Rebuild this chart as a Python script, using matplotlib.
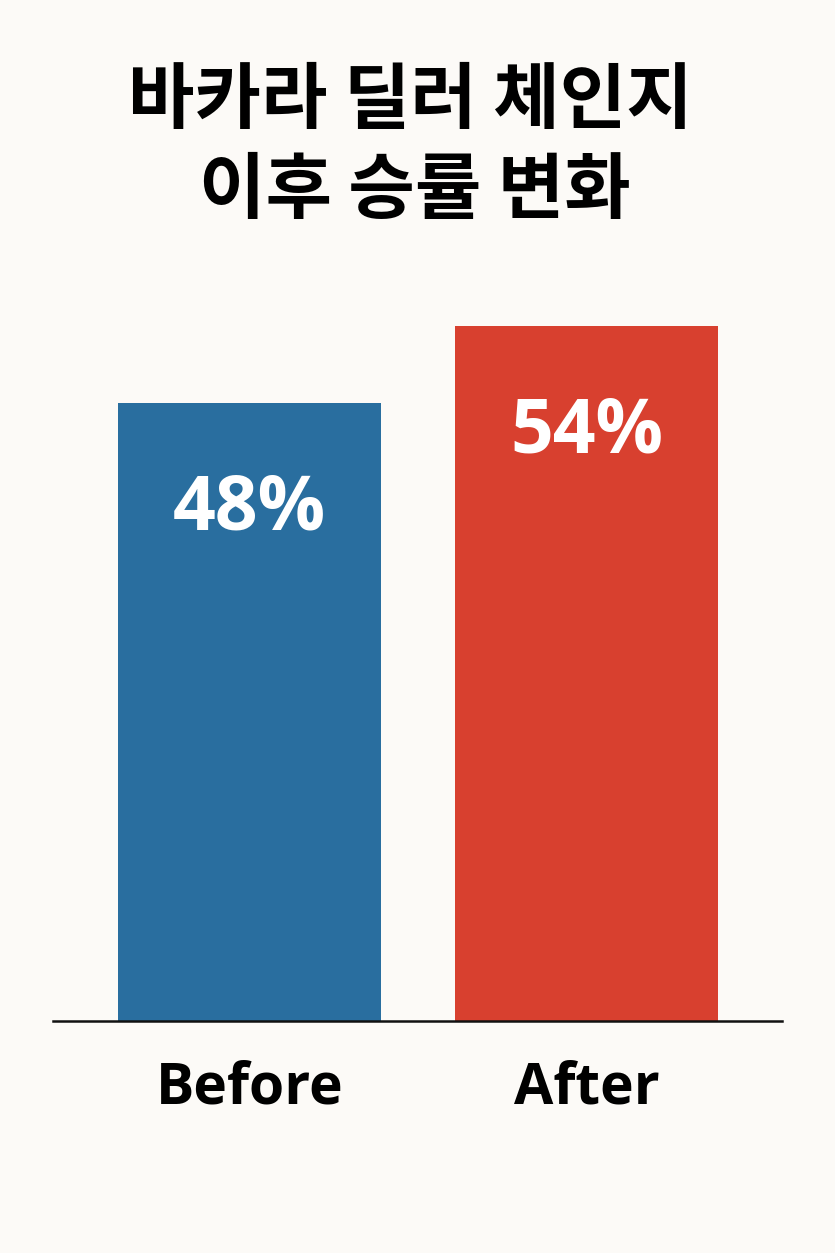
import matplotlib
matplotlib.use("Agg")
import matplotlib.pyplot as plt

categories = ["Before", "After"]
values = [48, 54]
value_labels = ["48%", "54%"]
colors = ["#296E9F", "#D8402F"]
title_lines = ["바카라 딜러 체인지", "이후 승률 변화"]

bg = "#FCFAF7"
fig = plt.figure(figsize=(8.35, 12.53), dpi=100, facecolor=bg)
ax = fig.add_axes([53/835, 1 - 1021/1253, (782-53)/835, (1021-300)/1253])
ax.set_facecolor(bg)

x = list(range(len(categories)))
bars = ax.bar(x, values, width=0.78, color=colors, zorder=2)
ax.set_xlim(-0.583, 1.580)
ax.set_ylim(0, 56)

for b, lab in zip(bars, value_labels):
    ax.annotate(lab, (b.get_x() + b.get_width()/2, b.get_height()),
                xytext=(0, -77), textcoords="offset points",
                ha="center", va="center", color="white",
                fontsize=54, fontweight="bold", family=["Open Sans", "DejaVu Sans"])

for s in ["top", "right", "left"]:
    ax.spines[s].set_visible(False)
ax.spines["bottom"].set_linewidth(1.8)
ax.spines["bottom"].set_color("#111111")
ax.set_yticks([])
ax.set_xticks(x)
ax.set_xticklabels(categories, fontsize=41, fontweight="bold",
                   family=["Open Sans", "DejaVu Sans"], color="black")
ax.tick_params(axis="x", length=0, pad=28)

fig.text(0.492, 1 - 102/1253, title_lines[0], ha="center", va="center",
         fontsize=52, fontweight="black", family=["Noto Sans CJK KR", "DejaVu Sans"])
fig.text(0.497, 1 - 192/1253, title_lines[1], ha="center", va="center",
         fontsize=52, fontweight="black", family=["Noto Sans CJK KR", "DejaVu Sans"])

fig.savefig("out.png", dpi=100, facecolor=bg)
